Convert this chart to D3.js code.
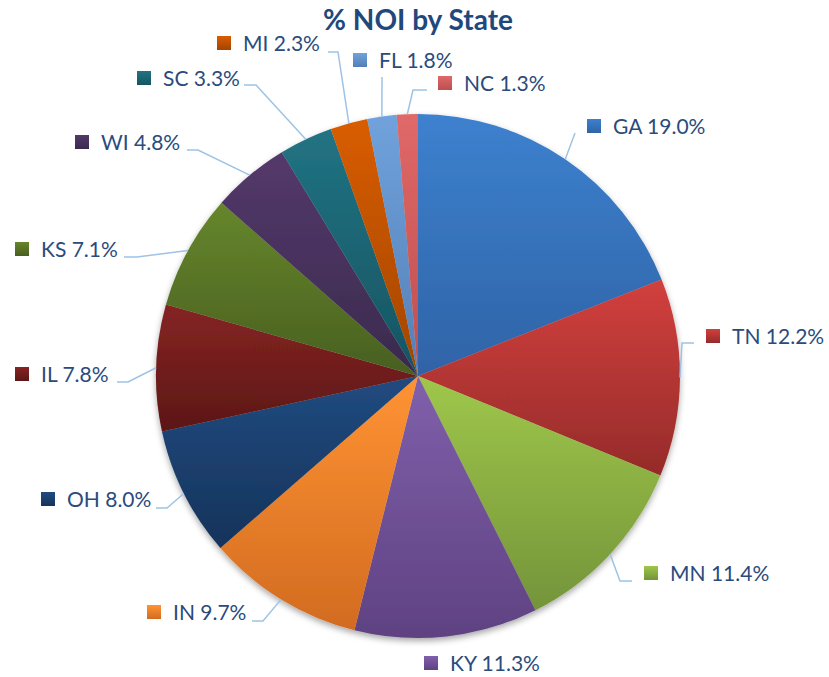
<!DOCTYPE html>
<html>
<head>
<meta charset="utf-8">
<script src="https://cdn.jsdelivr.net/npm/d3@7"></script>
<style>
  body { margin: 0; background: #fff; }
  svg { display: block; font-family: Lato, "Open Sans", sans-serif; }
</style>
</head>
<body>
<svg class="chart" width="829" height="677"></svg>
<script>
// data, clockwise from 12 o'clock
var states = ["GA", "TN", "MN", "KY", "IN", "OH", "IL", "KS", "WI", "SC", "MI", "FL", "NC"];
var noiPct = [19.0, 12.2, 11.4, 11.3, 9.7, 8.0, 7.8, 7.1, 4.8, 3.3, 2.3, 1.8, 1.3];
var topColors = ["#3d81cf", "#d2403d", "#9fc74a", "#8060ab", "#ff9333", "#214b80", "#862423", "#66862c", "#54396b", "#217383", "#d95d02", "#70a2db", "#e06868"];
var bottomColors = ["#2f63a6", "#952b2a", "#74943a", "#5f4282", "#d26b21", "#15335a", "#5c1716", "#485f20", "#3a2a4d", "#165462", "#a24500", "#547fb7", "#bd4f4f"];

// label layout: square left x, label centre y, leader points (label side first)
var labelLayout = [
  {x: 587, y: 126, leader: [[575, 133]]},
  {x: 706, y: 336, leader: [[694, 343], [682, 343]]},
  {x: 644, y: 573, leader: [[632, 581], [620, 581]]},
  {x: 424, y: 663, leader: null},
  {x: 147, y: 612, leader: [[252, 621], [263, 621]]},
  {x: 41, y: 499, leader: [[156, 508], [167, 508]]},
  {x: 15, y: 374, leader: [[117, 382], [128, 382]]},
  {x: 15, y: 249, leader: [[124, 257], [137, 257]]},
  {x: 75, y: 142, leader: [[187, 150], [198, 150]]},
  {x: 137, y: 78, leader: [[244, 85], [256, 85]]},
  {x: 217, y: 43, leader: [[328, 52], [338, 52]]},
  {x: 353, y: 60, leader: [[382, 77]]},
  {x: 438, y: 83, leader: [[427, 90], [413, 90]]}
];

var svg = d3.select("svg.chart");
var cx = 418, cy = 376, radius = 262;

var data = states.map(function(s, i) {
  return {state: s, value: noiPct[i], i: i};
});

var defs = svg.append("defs");
data.forEach(function(d) {
  var gr = defs.append("linearGradient")
      .attr("id", "grad" + d.i)
      .attr("x1", 0).attr("y1", 0).attr("x2", 0).attr("y2", 1);
  gr.append("stop").attr("offset", "0%").attr("stop-color", topColors[d.i]);
  gr.append("stop").attr("offset", "100%").attr("stop-color", bottomColors[d.i]);
});
var shadow = defs.append("filter").attr("id", "shadow")
    .attr("x", "-10%").attr("y", "-10%").attr("width", "120%").attr("height", "125%");
shadow.append("feDropShadow")
    .attr("dx", 0).attr("dy", 3).attr("stdDeviation", 3)
    .attr("flood-color", "#000").attr("flood-opacity", 0.35);

// title
svg.append("text")
    .attr("x", cx).attr("y", 30)
    .attr("text-anchor", "middle")
    .attr("font-size", 28).attr("font-weight", "bold")
    .attr("fill", "#1f497d")
    .text("% NOI by State");

var pie = d3.pie().sort(null).value(function(d) { return d.value; });
var arc = d3.arc().innerRadius(0).outerRadius(radius);
var edge = d3.arc().innerRadius(radius).outerRadius(radius);
var arcs = pie(data);

var g = svg.append("g").attr("transform", "translate(" + cx + "," + cy + ")");
g.append("g").attr("filter", "url(#shadow)")
  .selectAll("path")
  .data(arcs)
  .enter().append("path")
    .attr("d", arc)
    .attr("fill", function(d) { return "url(#grad" + d.data.i + ")"; });

// leader lines
var line = d3.line();
arcs.forEach(function(a) {
  var lay = labelLayout[a.data.i];
  if (!lay.leader) return;
  var c = edge.centroid(a);
  var pts = lay.leader.slice();
  pts.push([c[0] + cx, c[1] + cy]);
  svg.append("path")
      .attr("d", line(pts))
      .attr("fill", "none")
      .attr("stroke", "#9dc3e6")
      .attr("stroke-width", 1.5);
});

// labels
var lab = svg.append("g").selectAll("g")
  .data(data)
  .enter().append("g")
    .attr("transform", function(d) {
      var l = labelLayout[d.i];
      return "translate(" + l.x + "," + l.y + ")";
    });
lab.append("rect")
    .attr("x", 0).attr("y", -7)
    .attr("width", 14).attr("height", 14)
    .attr("fill", function(d) { return "url(#grad" + d.i + ")"; });
lab.append("text")
    .attr("x", 26).attr("y", 0)
    .attr("dy", "0.36em")
    .attr("font-size", 21)
    .attr("fill", "#2a4b7c")
    .text(function(d) { return d.state + " " + d.value.toFixed(1) + "%"; });
</script>
</body>
</html>
